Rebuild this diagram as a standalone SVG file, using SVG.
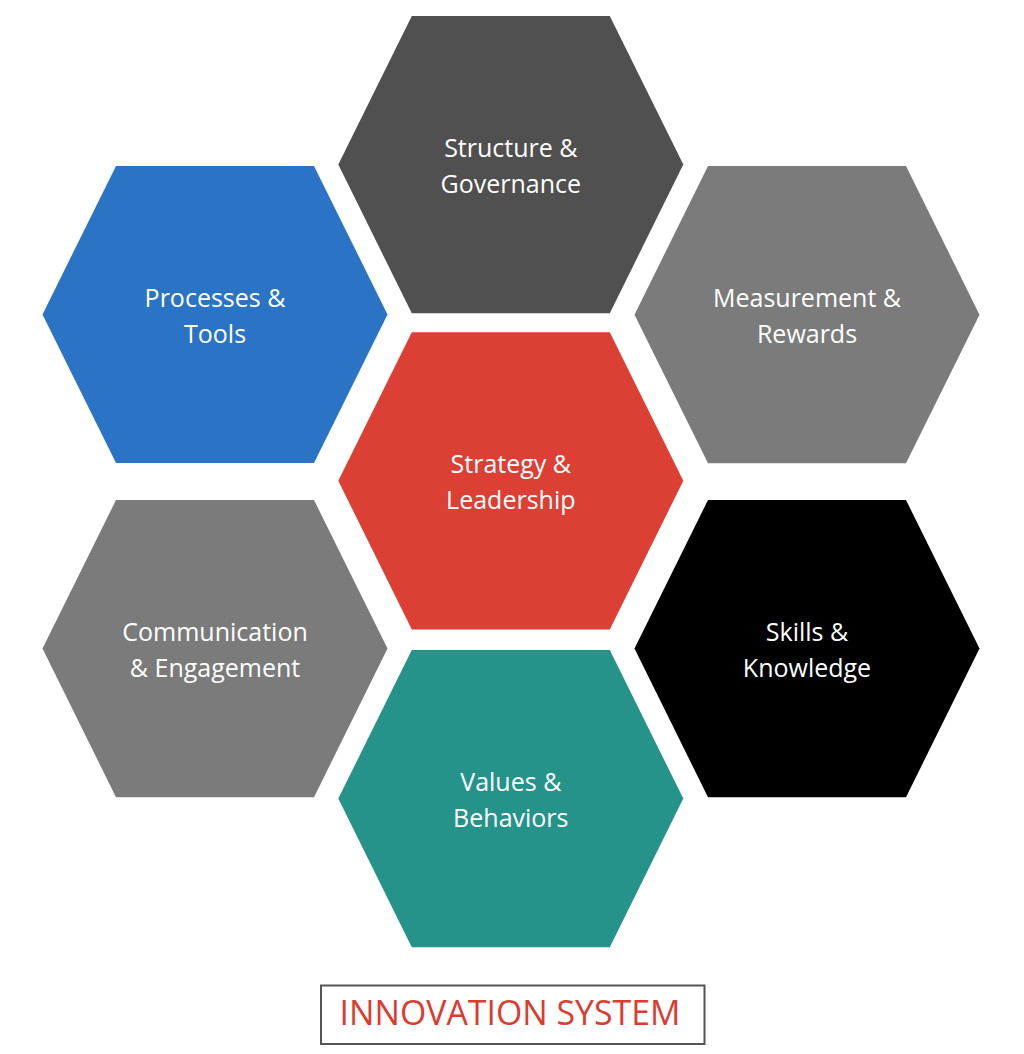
<svg xmlns="http://www.w3.org/2000/svg" width="1024" height="1054" viewBox="0 0 1024 1054">
  <defs>
    <style>
      .hex { stroke: none; }
      .lbl { font-family: "Open Sans", "Liberation Sans", sans-serif; font-size: 25px; fill: #ffffff; text-anchor: middle; }
      .title { font-family: "Open Sans", "Liberation Sans", sans-serif; font-size: 34px; fill: #dc3b30; text-anchor: middle; }
    </style>
    <polygon id="hexshape" points="-172.5,0 -99,-148.6 99,-148.6 172.5,0 99,148.6 -99,148.6"/>
  </defs>
  <rect x="0" y="0" width="1024" height="1054" fill="#ffffff"/>
  <g id="connectors"></g>
  <g id="structure" transform="translate(510.8,164.6)">
    <use href="#hexshape" class="hex" fill="#505050"/>
    <text class="lbl" x="0" y="-7.5">Structure &amp;</text>
    <text class="lbl" x="0" y="28.5">Governance</text>
  </g>
  <g id="processes" transform="translate(215,314.5)">
    <use href="#hexshape" class="hex" fill="#2a73c5"/>
    <text class="lbl" x="0" y="-7.5">Processes &amp;</text>
    <text class="lbl" x="0" y="28.5">Tools</text>
  </g>
  <g id="measurement" transform="translate(807,314.7)">
    <use href="#hexshape" class="hex" fill="#7b7b7b"/>
    <text class="lbl" x="0" y="-7.5">Measurement &amp;</text>
    <text class="lbl" x="0" y="28.5">Rewards</text>
  </g>
  <g id="strategy" transform="translate(510.8,480.8)">
    <use href="#hexshape" class="hex" fill="#dc3f33"/>
    <text class="lbl" x="0" y="-7.5">Strategy &amp;</text>
    <text class="lbl" x="0" y="28.5">Leadership</text>
  </g>
  <g id="communication" transform="translate(215,648.6)">
    <use href="#hexshape" class="hex" fill="#7b7b7b"/>
    <text class="lbl" x="0" y="-7.5">Communication</text>
    <text class="lbl" x="0" y="28.5">&amp; Engagement</text>
  </g>
  <g id="skills" transform="translate(807,648.6)">
    <use href="#hexshape" class="hex" fill="#000000"/>
    <text class="lbl" x="0" y="-7.5">Skills &amp;</text>
    <text class="lbl" x="0" y="28.5">Knowledge</text>
  </g>
  <g id="values" transform="translate(510.8,798.6)">
    <use href="#hexshape" class="hex" fill="#25938a"/>
    <text class="lbl" x="0" y="-7.5">Values &amp;</text>
    <text class="lbl" x="0" y="28.5">Behaviors</text>
  </g>
  <g id="title">
    <rect x="321" y="985.5" width="383.5" height="58.5" fill="#ffffff" stroke="#555555" stroke-width="2"/>
    <text class="title" x="510" y="1024.5" textLength="341" lengthAdjust="spacingAndGlyphs">INNOVATION SYSTEM</text>
  </g>
</svg>
